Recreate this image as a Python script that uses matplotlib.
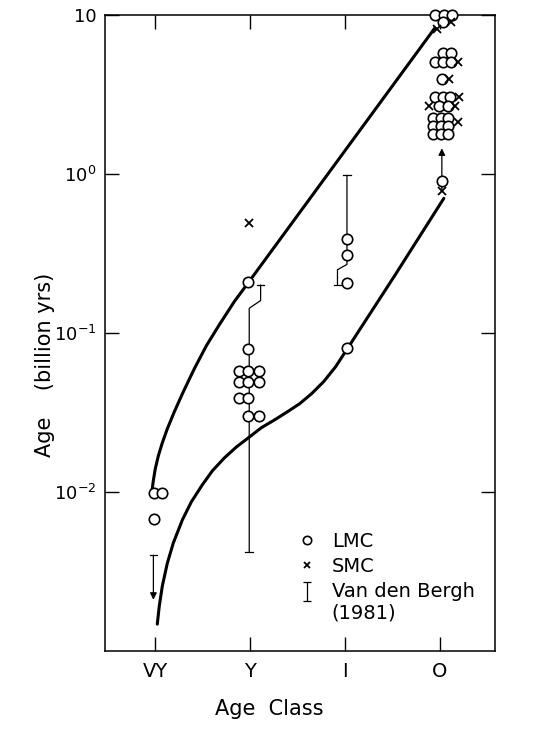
import matplotlib
matplotlib.use("Agg")
import matplotlib.pyplot as plt
import numpy as np
from matplotlib.lines import Line2D
from matplotlib.path import Path

plt.rcParams['font.family'] = ['DejaVu Sans']
plt.rcParams['mathtext.default'] = 'regular'

# age classes on the x axis (VY=1 ... O=4)
classes = ['VY', 'Y', 'I', 'O']
class_pos = [1, 2, 3, 4]

# LMC clusters (x position, age in billion yrs)
lmc_x = [0.99, 1.07, 0.99,
         1.98, 1.98,
         1.88, 1.98, 2.09, 1.88, 1.98, 2.09, 1.88, 1.98, 1.98, 2.09,
         3.02, 3.02, 3.02, 3.02,
         3.95, 4.04, 4.13, 4.03, 4.03, 4.12, 3.95, 4.03, 4.12, 4.02,
         3.95, 4.03, 4.11, 3.99, 4.08,
         3.93, 4.01, 4.09, 3.93, 4.01, 4.09, 3.93, 4.01, 4.09, 4.02]
lmc_age = [0.0098, 0.0098, 0.0068,
           0.21, 0.079,
           0.058, 0.058, 0.058, 0.049, 0.049, 0.049, 0.039, 0.039, 0.030, 0.030,
           0.39, 0.31, 0.205, 0.080,
           10, 10, 10, 9.0, 5.75, 5.75, 5.06, 5.06, 5.06, 3.95,
           3.04, 3.04, 3.04, 2.67, 2.67,
           2.24, 2.24, 2.24, 2.0, 2.0, 2.0, 1.78, 1.78, 1.78, 0.91]

# SMC clusters
smc_x = [1.99, 3.97, 4.12, 4.19, 4.10, 4.20, 3.88, 4.16, 4.19, 4.02]
smc_age = [0.49, 8.2, 9.0, 5.06, 3.95, 3.04, 2.67, 2.67, 2.12, 0.78]

# Van den Bergh (1981) ranges, drawn as bars with a small offset step
vdb_y_x = [2.11, 2.11, 1.99, 1.99]
vdb_y_age = [0.20, 0.16, 0.143, 0.0042]
vdb_i_x = [3.02, 3.02, 2.92, 2.92]
vdb_i_age = [0.98, 0.27, 0.25, 0.20]
vdb_vy_x = [0.98, 0.98]
vdb_vy_age = [0.0040, 0.0021]
o_arrow_x = [4.02, 4.02]
o_arrow_age = [0.80, 1.45]

# upper and lower envelope curves
upper_x = [0.968, 0.979, 1.000, 1.032, 1.074, 1.127, 1.201, 1.296, 1.412,
           1.539, 1.676, 1.834, 1.982, 3.946]
upper_age = [0.01046, 0.01175, 0.0140, 0.01687, 0.02038, 0.0250, 0.0320,
             0.0428, 0.0597, 0.0833, 0.113, 0.158, 0.208, 8.28]
lower_x = [1.021, 1.042, 1.074, 1.127, 1.190, 1.285, 1.380, 1.496, 1.602,
           1.729, 1.855, 1.993, 2.119, 2.257, 2.394, 2.521, 2.647, 2.774,
           2.901, 3.017, 3.524, 4.041]
lower_age = [0.001476, 0.001915, 0.00256, 0.00357, 0.00478, 0.00667, 0.00867,
             0.0111, 0.0136, 0.0164, 0.0192, 0.0222, 0.0254, 0.0284, 0.0320,
             0.0359, 0.0415, 0.0494, 0.0614, 0.0785, 0.230, 0.703]

fig = plt.figure(figsize=(5.6, 7.35), dpi=100)
ax = fig.add_axes([0.1875, 0.1143, 0.6964, 0.8653])
ax.set_yscale('log')
ax.set_xlim(0.47, 4.58)
ax.set_ylim(1e-3, 10)

lw_curve = 2.2
ax.plot(upper_x, upper_age, color='black', lw=lw_curve, solid_capstyle='round',
        solid_joinstyle='round', zorder=3)
ax.plot(lower_x, lower_age, color='black', lw=lw_curve, solid_capstyle='round',
        solid_joinstyle='round', zorder=3)

vdb_kw = dict(color='black', lw=0.9, zorder=2)
ax.plot(vdb_y_x, vdb_y_age, **vdb_kw)
ax.plot(vdb_i_x, vdb_i_age, **vdb_kw)
cap = 0.04
for xs, ys in [(vdb_y_x, vdb_y_age), (vdb_i_x, vdb_i_age), (vdb_vy_x, vdb_vy_age)]:
    ax.plot([xs[0] - cap, xs[0] + cap], [ys[0]] * 2, **vdb_kw)
for xs, ys in [(vdb_y_x, vdb_y_age), (vdb_i_x, vdb_i_age)]:
    ax.plot([xs[-1] - cap, xs[-1] + cap], [ys[-1]] * 2, **vdb_kw)
ax.annotate('', xy=(vdb_vy_x[1], vdb_vy_age[1]), xytext=(vdb_vy_x[0], vdb_vy_age[0]),
            arrowprops=dict(arrowstyle='-|>', color='black', lw=0.9,
                            mutation_scale=10, shrinkA=0, shrinkB=0))
ax.annotate('', xy=(o_arrow_x[1], o_arrow_age[1]), xytext=(o_arrow_x[0], o_arrow_age[0]),
            arrowprops=dict(arrowstyle='-|>', color='black', lw=0.9,
                            mutation_scale=10, shrinkA=0, shrinkB=0))

ax.plot(lmc_x, lmc_age, ls='none', marker='o', ms=7.5, mfc='white', mec='black',
        mew=1.2, zorder=4, clip_on=False)
ax.plot(smc_x, smc_age, ls='none', marker='x', ms=6, mec='black', mew=1.3,
        zorder=5, clip_on=False)

ax.set_xticks(class_pos)
ax.set_xticklabels(classes, fontsize=14)
ax.set_yticks([1e-2, 1e-1, 1, 10])
ax.set_yticklabels(['$10^{-2}$', '$10^{-1}$', '$10^{0}$', '10'], fontsize=13)
ax.minorticks_off()
ax.tick_params(which='major', direction='in', length=10, width=1.0,
               top=True, right=True)
ax.tick_params(axis='x', pad=8)
ax.tick_params(axis='y', pad=6)
for s in ax.spines.values():
    s.set_linewidth(1.1)

ax.set_xlabel('Age  Class', fontsize=15)
ax.xaxis.set_label_coords(0.42, -0.075)
ax.set_ylabel('Age    (billion yrs)', fontsize=15)
ax.yaxis.set_label_coords(-0.128, 0.45)

# "I" symbol for the legend, sitting on the first line of its two-line label
bar_path = Path([(-0.2, 0.12), (0.2, 0.12), (0, 0.12), (0, 1.0), (-0.2, 1.0), (0.2, 1.0)],
                [Path.MOVETO, Path.LINETO, Path.MOVETO, Path.LINETO, Path.MOVETO, Path.LINETO])
handles = [
    Line2D([], [], ls='none', marker='o', ms=6, mfc='white', mec='black', mew=1.2),
    Line2D([], [], ls='none', marker='x', ms=5, mec='black', mew=1.3),
    Line2D([], [], ls='none', marker=bar_path, ms=30, mec='black', mew=0.9),
]
labels = ['LMC', 'SMC', 'Van den Bergh\n(1981)']
leg = ax.legend(handles, labels, loc='upper left', bbox_to_anchor=(0.467, 0.2025),
                frameon=False, fontsize=14, handlelength=1.0, handletextpad=0.8,
                labelspacing=0.3, borderpad=0)

fig.savefig('out.png', dpi=100)
